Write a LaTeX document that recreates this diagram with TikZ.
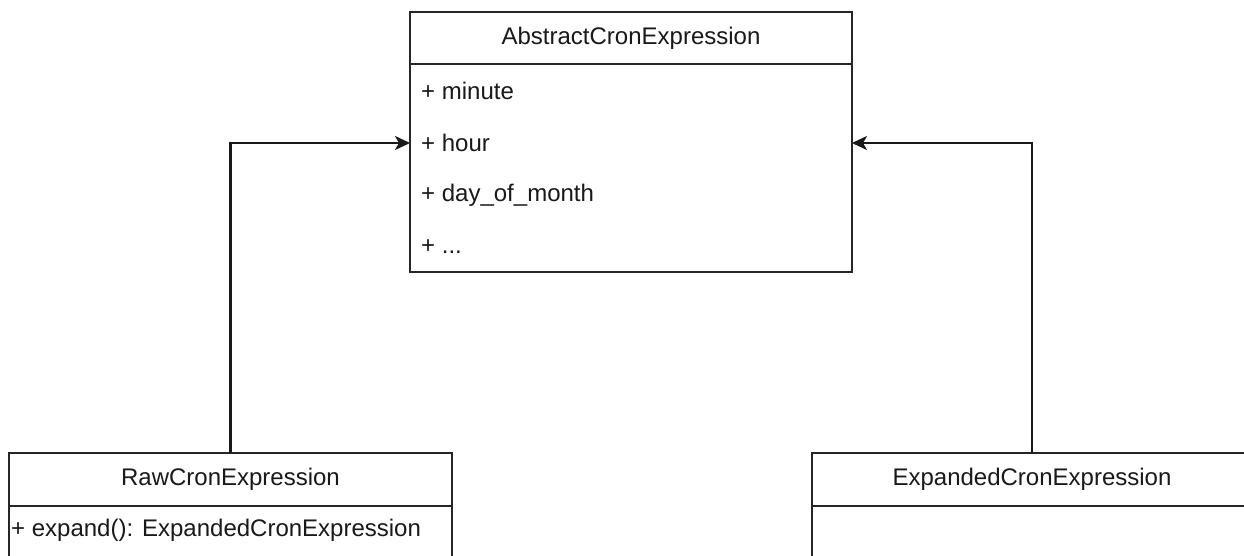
\documentclass[tikz,border=0pt]{standalone}
\usepackage{fontspec}
\setmainfont{Liberation Sans}
\usetikzlibrary{arrows.meta}
\begin{document}
\begin{tikzpicture}[x=1pt,y=-1pt,
  umltext/.style={font=\fontsize{24}{28}\selectfont, text=black!90, inner sep=0pt},
  classbox/.style={draw=black!85, line width=2.2pt, fill=white, inner sep=0pt, outer sep=0pt},
  member/.style={umltext, anchor=west},
  inherit/.style={draw=black!90, line width=2.2pt, -{Stealth[length=15pt,width=14pt,inset=4pt]}}
]
\useasboundingbox (0,0) rectangle (1244,556);
\clip (0,0) rectangle (1244,556);
\fill[white] (0,0) rectangle (1244,556);

% AbstractCronExpression
\node[classbox, minimum width=442pt, minimum height=260pt] (abs) at (631,142) {};
\node[classbox, minimum width=442pt, minimum height=52pt, anchor=north] (absh) at (abs.north) {};
\node[umltext] (abst) at (absh.center) {AbstractCronExpression};
\node[member] (minute) at (421,91) {+ minute};
\node[member] (hour) at (421,143) {+ hour};
\node[member] (dom) at (421,195) {+ day\_of\_month};
\node[member] (more) at (421,247) {+ ...};

% RawCronExpression
\node[classbox, minimum width=443pt, minimum height=200pt, anchor=north] (raw) at (230.5,453) {};
\node[classbox, minimum width=443pt, minimum height=53pt, anchor=north] (rawh) at (raw.north) {};
\node[umltext] (rawt) at (rawh.center) {RawCronExpression};
\node[member] (expand) at (11,530) {+ expand(): ExpandedCronExpression};

% ExpandedCronExpression
\node[classbox, minimum width=440pt, minimum height=200pt, anchor=north] (exp) at (1032,453) {};
\node[classbox, minimum width=440pt, minimum height=53pt, anchor=north] (exph) at (exp.north) {};
\node[umltext] (expt) at (exph.center) {ExpandedCronExpression};

% generalisation connectors
\draw[inherit] (raw.north) |- (abs.west |- hour);
\draw[inherit] (exp.north) |- (abs.east |- hour);
\end{tikzpicture}
\end{document}
